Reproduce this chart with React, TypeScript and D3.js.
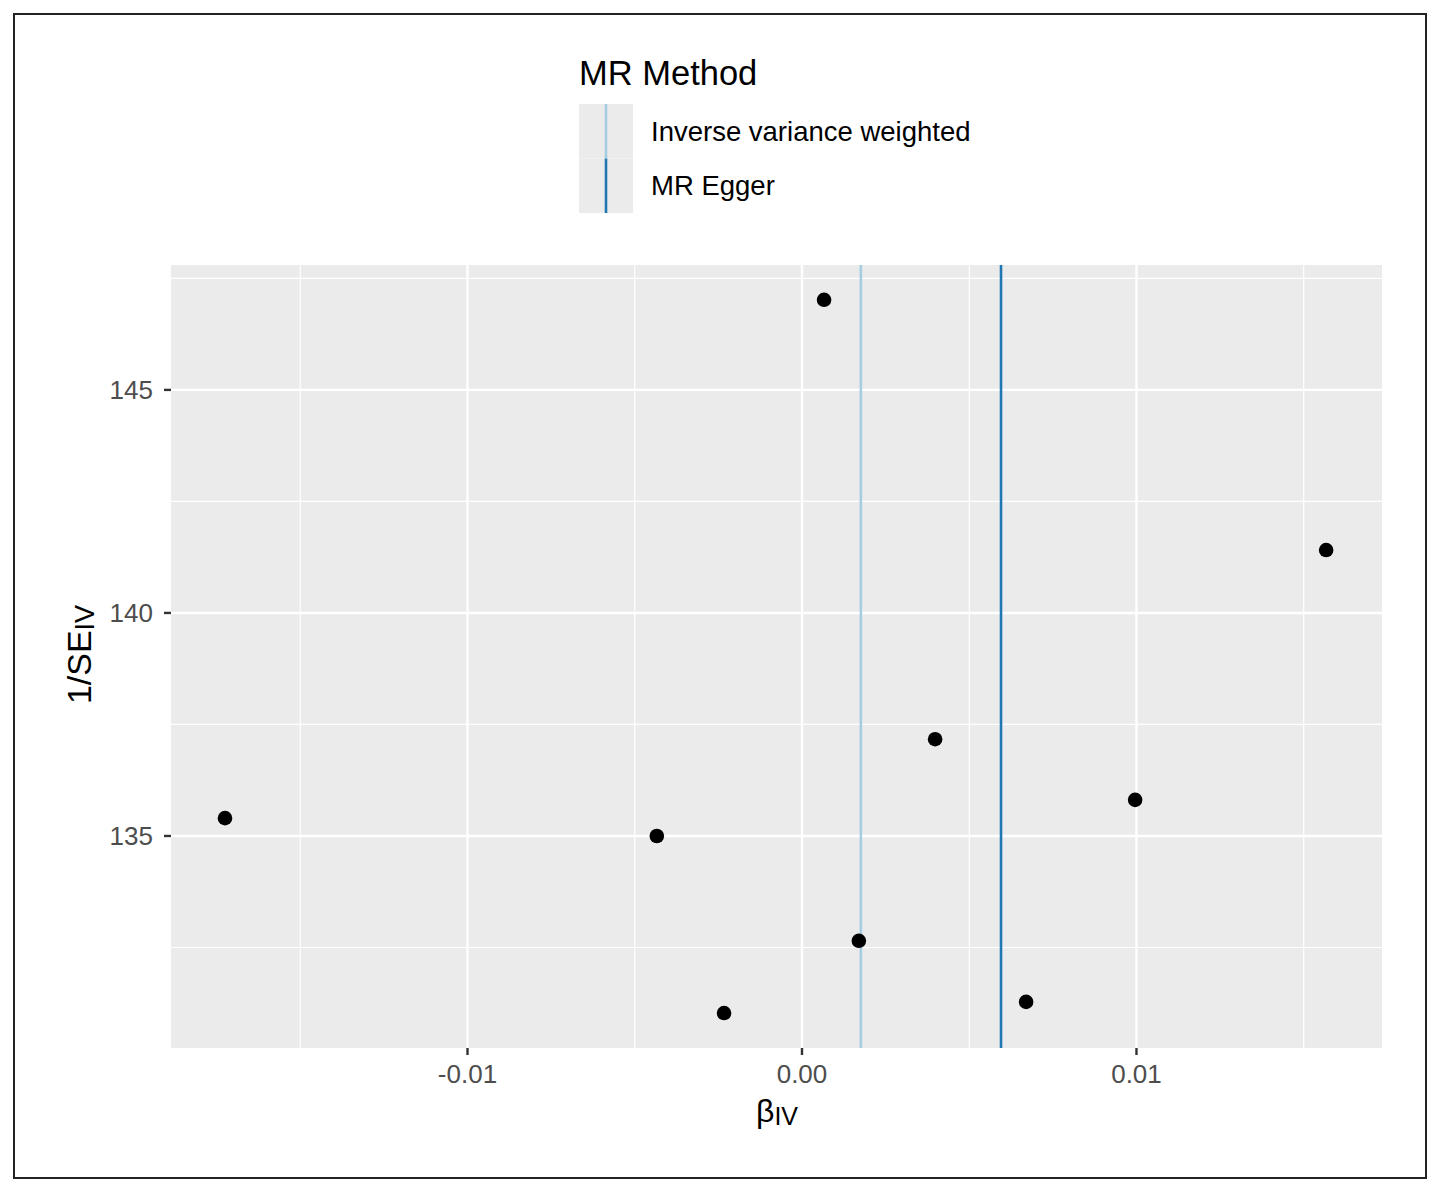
import { useEffect } from 'react';
import * as d3 from 'd3';

// SNP estimates
const betaIV = [-0.01725, -0.00434, -0.00233, 0.00066, 0.0017, 0.00398, 0.0067, 0.00996, 0.01567];
const invSE = [135.4, 135.0, 131.03, 147.02, 132.65, 137.17, 131.28, 135.81, 141.41];

const methods = ['Inverse variance weighted', 'MR Egger'];
const methodEstimates = [0.00176, 0.00595];
const methodColors = ['#a6cee3', '#1f78b4'];

const xTicks = [-0.01, 0.0, 0.01];
const xMinor = [-0.015, -0.005, 0.005, 0.015];
const yTicks = [135, 140, 145];
const yMinor = [132.5, 137.5, 142.5, 147.5];

const W = 1440;
const H = 1188;
const panel = { left: 171, right: 1382, top: 265, bottom: 1048 };
const font = '"Liberation Sans", Arial, Helvetica, sans-serif';

export default function App() {
  useEffect(() => {
    document.body.style.margin = '0';
  }, []);

  const x = d3.scaleLinear().domain([-0.018864, 0.01734]).range([panel.left, panel.right]);
  const y = d3.scaleLinear().domain([130.247, 147.8]).range([panel.bottom, panel.top]);
  // ggplot prints a plain hyphen, not the unicode minus d3 uses
  const fmt = (v: number) => d3.format('.2f')(v).replace('\u2212', '-');

  return (
    <svg width={W} height={H} style={{ display: 'block', fontFamily: font }}>
      <rect x={0} y={0} width={W} height={H} fill="#fff" />
      <rect x={14} y={14} width={1412} height={1164} fill="none" stroke="#222" strokeWidth={2} />

      {/* panel */}
      <rect
        x={panel.left}
        y={panel.top}
        width={panel.right - panel.left}
        height={panel.bottom - panel.top}
        fill="#ebebeb"
      />
      {xMinor.map(v => (
        <line key={'xm' + v} x1={x(v)} x2={x(v)} y1={panel.top} y2={panel.bottom} stroke="#fff" strokeWidth={1.2} />
      ))}
      {yMinor.map(v => (
        <line key={'ym' + v} x1={panel.left} x2={panel.right} y1={y(v)} y2={y(v)} stroke="#fff" strokeWidth={1.2} />
      ))}
      {xTicks.map(v => (
        <line key={'xM' + v} x1={x(v)} x2={x(v)} y1={panel.top} y2={panel.bottom} stroke="#fff" strokeWidth={2.4} />
      ))}
      {yTicks.map(v => (
        <line key={'yM' + v} x1={panel.left} x2={panel.right} y1={y(v)} y2={y(v)} stroke="#fff" strokeWidth={2.4} />
      ))}

      {/* method estimates */}
      {methodEstimates.map((v, i) => (
        <line
          key={'m' + i}
          x1={x(v)}
          x2={x(v)}
          y1={panel.top}
          y2={panel.bottom}
          stroke={methodColors[i]}
          strokeWidth={2.6}
        />
      ))}

      {/* points */}
      {betaIV.map((b, i) => (
        <circle key={'p' + i} cx={x(b)} cy={y(invSE[i])} r={7.3} fill="#000" />
      ))}

      {/* x axis */}
      {xTicks.map(v => (
        <g key={'xt' + v}>
          <line x1={x(v)} x2={x(v)} y1={panel.bottom} y2={panel.bottom + 7} stroke="#333" strokeWidth={2.4} />
          <text x={x(v)} y={panel.bottom + 35} textAnchor="middle" fontSize={26} fill="#4d4d4d">
            {fmt(v)}
          </text>
        </g>
      ))}
      {/* y axis */}
      {yTicks.map(v => (
        <g key={'yt' + v}>
          <line x1={panel.left - 7} x2={panel.left} y1={y(v)} y2={y(v)} stroke="#333" strokeWidth={2.4} />
          <text x={panel.left - 18} y={y(v)} dy="0.36em" textAnchor="end" fontSize={26} fill="#4d4d4d">
            {v}
          </text>
        </g>
      ))}

      {/* axis titles */}
      <text x={756} y={1122} textAnchor="start" fontSize={32} fill="#000">
        β<tspan fontSize={25} dy={3}>IV</tspan>
      </text>
      <text
        transform={`translate(91,${(panel.top + panel.bottom) / 2 - 2}) rotate(-90)`}
        textAnchor="middle"
        fontSize={34}
        fill="#000"
      >
        1/SE<tspan fontSize={27} dy={3}>IV</tspan>
      </text>

      {/* legend */}
      <text x={579} y={85} fontSize={34.5} fill="#000">
        MR Method
      </text>
      {methods.map((m, i) => (
        <g key={'lg' + i}>
          <rect x={579} y={104 + i * 54.5} width={54} height={54.5} fill="#ebebeb" />
          <line
            x1={606}
            x2={606}
            y1={104 + i * 54.5}
            y2={104 + (i + 1) * 54.5}
            stroke={methodColors[i]}
            strokeWidth={2.6}
          />
          <text x={651} y={131 + i * 54.5} dy="0.36em" fontSize={27.5} fill="#000">
            {m}
          </text>
        </g>
      ))}
    </svg>
  );
}
